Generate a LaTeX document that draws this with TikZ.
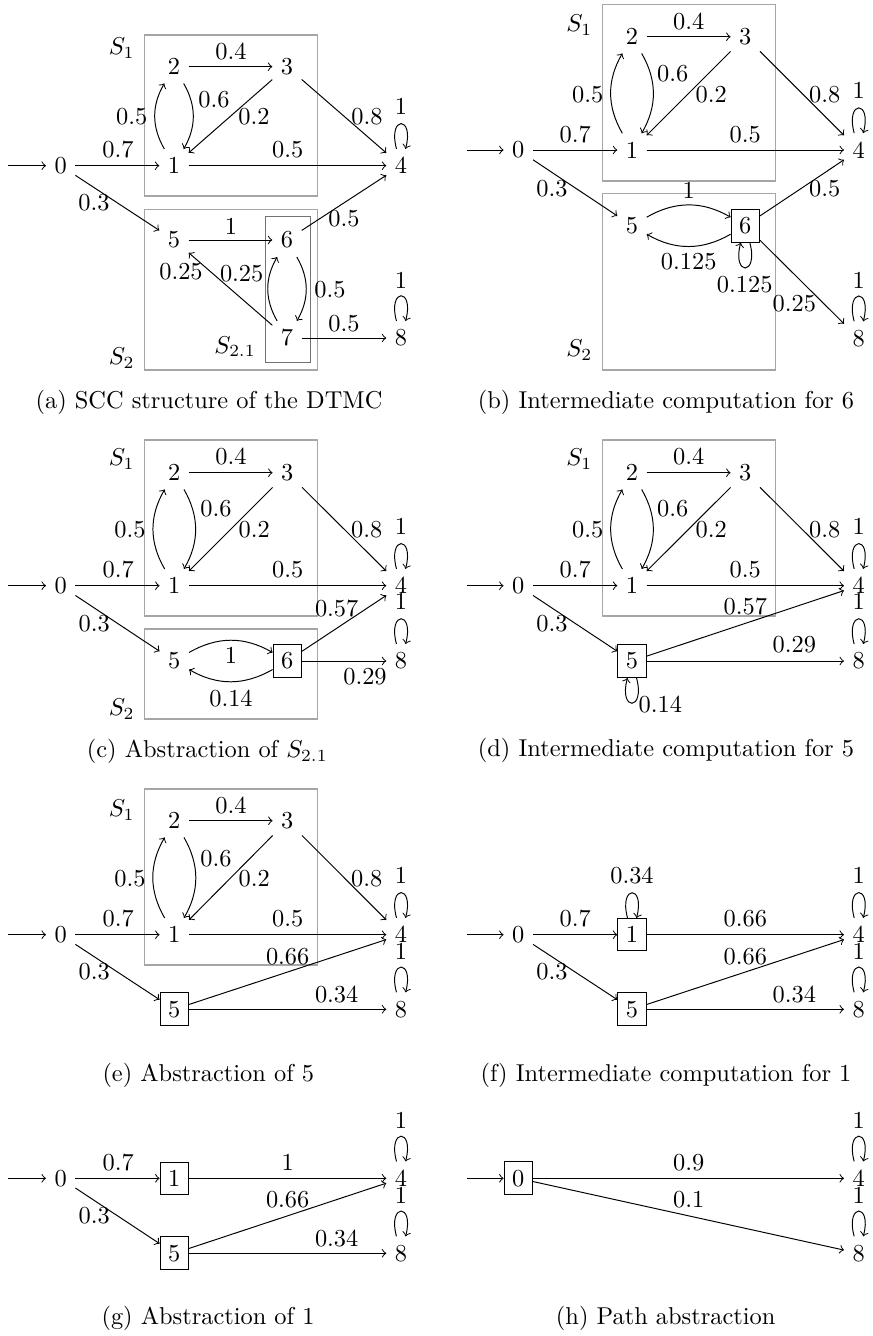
\documentclass[tikz,border=0pt]{standalone}
\usetikzlibrary{arrows}
\begin{document}
\begin{tikzpicture}[x=0.41pt,y=0.41pt,
  st/.style={inner sep=3.333pt},
  bx/.style={draw,inner sep=3.333pt},
  scc/.style={draw=black!35,line width=0.6pt},
  scci/.style={draw=black!55,line width=0.4pt},
  lbl/.style={inner sep=0pt},
  tr/.style={->},
  captxt/.style={inner sep=0pt}]
\useasboundingbox (0,0) rectangle (872,-1336);

%%%%%%%%%%%%%%%% (a)
\draw[scc] (144.3,-35) rectangle (317.7,-196);
\draw[scc] (144.3,-209.3) rectangle (317.7,-370);
\draw[scci] (265.3,-216.7) rectangle (310.3,-362.3);
\node[lbl] (aS1) at (121.7,-48.3) {$S_1$};
\node[lbl] (aS2) at (121.7,-358) {$S_2$};
\node[lbl] (aS21) at (235,-346.7) {$S_{2.1}$};
\node[st] (a0) at (60.7,-165.7) {0};
\node[st] (a1) at (174,-165.7) {1};
\node[st] (a2) at (174,-66.7) {2};
\node[st] (a3) at (287,-66.7) {3};
\node[st] (a4) at (401,-165.7) {4};
\node[st] (a5) at (174,-240) {5};
\node[st] (a6) at (287,-240) {6};
\node[st] (a7) at (287,-338) {7};
\node[st] (a8) at (401,-338) {8};
\coordinate (ai) at (8.3,-165.7);
\draw[tr] (ai) -- (a0);
\draw[tr] (a0) -- (a1);
\draw[tr] (a0) -- (a5);
\draw[tr] (a1) to[bend left] (a2);
\draw[tr] (a2) to[bend left] (a1);
\draw[tr] (a2) -- (a3);
\draw[tr] (a3) -- (a1);
\draw[tr] (a3) -- (a4);
\draw[tr] (a1) -- (a4);
\draw[tr] (a4) to[loop above] ();
\draw[tr] (a5) -- (a6);
\draw[tr] (a6) -- (a4);
\draw[tr] (a6) to[bend left] (a7);
\draw[tr] (a7) to[bend left] (a6);
\draw[tr] (a7) -- (a5);
\draw[tr] (a7) -- (a8);
\draw[tr] (a8) to[loop above] ();
\node[lbl] (la01) at (118,-150) {0.7};
\node[lbl] (la05) at (94,-203) {0.3};
\node[lbl] (la12) at (131.7,-116.7) {0.5};
\node[lbl] (la21) at (214,-99.3) {0.6};
\node[lbl] (la31) at (254,-116.7) {0.2};
\node[lbl] (la23) at (231,-51.7) {0.4};
\node[lbl] (la34) at (367,-117) {0.8};
\node[lbl] (la14) at (287.7,-150) {0.5};
\node[lbl] (la44) at (401,-106) {1};
\node[lbl] (la56) at (231,-226.7) {1};
\node[lbl] (la64) at (344,-218.3) {0.5};
\node[lbl] (la67) at (330,-289.3) {0.5};
\node[lbl] (la76) at (241.7,-273.3) {0.25};
\node[lbl] (la75) at (181,-271.7) {0.25};
\node[lbl] (la78) at (344,-323.3) {0.5};
\node[lbl] (la88) at (401,-280) {1};
\node[captxt] (capa) at (209,-402) {(a) SCC structure of the DTMC};

%%%%%%%%%%%%%%%% (b)
\draw[scc] (602.7,-4.7) rectangle (775.3,-181);
\draw[scc] (602.7,-193.3) rectangle (775.3,-370);
\node[lbl] (bS1) at (579.3,-25) {$S_1$};
\node[lbl] (bS2) at (579.3,-350) {$S_2$};
\node[st] (b0) at (518.3,-150) {0};
\node[st] (b1) at (632,-150) {1};
\node[st] (b2) at (632,-36.7) {2};
\node[st] (b3) at (745.3,-36.7) {3};
\node[st] (b4) at (858.7,-150) {4};
\node[st] (b5) at (632,-225.7) {5};
\node[bx] (b6) at (745.3,-225.7) {6};
\node[st] (b8) at (858.7,-338.3) {8};
\coordinate (bi) at (466.7,-150);
\draw[tr] (bi) -- (b0);
\draw[tr] (b0) -- (b1);
\draw[tr] (b0) -- (b5);
\draw[tr] (b1) to[bend left] (b2);
\draw[tr] (b2) to[bend left] (b1);
\draw[tr] (b2) -- (b3);
\draw[tr] (b3) -- (b1);
\draw[tr] (b3) -- (b4);
\draw[tr] (b1) -- (b4);
\draw[tr] (b4) to[loop above] ();
\draw[tr] (b5) to[bend left] (b6);
\draw[tr] (b6) to[bend left] (b5);
\draw[tr] (b6) to[loop below] ();
\draw[tr] (b6) -- (b4);
\draw[tr] (b6) -- (b8);
\draw[tr] (b8) to[loop above] ();
\node[lbl] (lb23) at (688.7,-21.7) {0.4};
\node[lbl] (lb21) at (672.7,-73.3) {0.6};
\node[lbl] (lb12) at (587.7,-94.3) {0.5};
\node[lbl] (lb31) at (711.3,-94.3) {0.2};
\node[lbl] (lb34) at (824.7,-94.3) {0.8};
\node[lbl] (lb44) at (858.7,-90) {1};
\node[lbl] (lb01) at (575.3,-135) {0.7};
\node[lbl] (lb14) at (745.3,-135) {0.5};
\node[lbl] (lb05) at (552,-188.3) {0.3};
\node[lbl] (lb56) at (688.7,-190) {1};
\node[lbl] (lb64) at (824.7,-188.3) {0.5};
\node[lbl] (lb65) at (688.7,-261.7) {0.125};
\node[lbl] (lb66) at (744.7,-285) {0.125};
\node[lbl] (lb68) at (794.3,-304) {0.25};
\node[lbl] (lb88) at (858.7,-280) {1};
\node[captxt] (capb) at (666,-402) {(b) Intermediate computation for 6};

%%%%%%%%%%%%%%%% (c)
\draw[scc] (144.3,-440) rectangle (317.7,-616);
\draw[scc] (144.3,-629) rectangle (317.7,-719);
\node[lbl] (cS1) at (121.7,-459.3) {$S_1$};
\node[lbl] (cS2) at (121.7,-709) {$S_2$};
\node[st] (c0) at (60.7,-585.7) {0};
\node[st] (c1) at (174.3,-585.7) {1};
\node[st] (c2) at (174.3,-472.7) {2};
\node[st] (c3) at (287.3,-472.7) {3};
\node[st] (c4) at (401,-585.7) {4};
\node[st] (c5) at (174.3,-661) {5};
\node[bx] (c6) at (287.3,-661) {6};
\node[st] (c8) at (401,-661) {8};
\coordinate (ci) at (8.3,-585.7);
\draw[tr] (ci) -- (c0);
\draw[tr] (c0) -- (c1);
\draw[tr] (c0) -- (c5);
\draw[tr] (c1) to[bend left] (c2);
\draw[tr] (c2) to[bend left] (c1);
\draw[tr] (c2) -- (c3);
\draw[tr] (c3) -- (c1);
\draw[tr] (c3) -- (c4);
\draw[tr] (c1) -- (c4);
\draw[tr] (c4) to[loop above] ();
\draw[tr] (c5) to[bend left] (c6);
\draw[tr] (c6) to[bend left] (c5);
\draw[tr] (c6) -- (c4);
\draw[tr] (c6) -- (c8);
\draw[tr] (c8) to[loop above] ();
\node[lbl] (lc23) at (231,-456.7) {0.4};
\node[lbl] (lc21) at (216,-509) {0.6};
\node[lbl] (lc12) at (130,-529.3) {0.5};
\node[lbl] (lc31) at (254.3,-529.3) {0.2};
\node[lbl] (lc34) at (366.7,-529.3) {0.8};
\node[lbl] (lc44) at (401,-526) {1};
\node[lbl] (lc01) at (118.3,-569.3) {0.7};
\node[lbl] (lc14) at (287.7,-569.3) {0.5};
\node[lbl] (lc64) at (336.7,-608.3) {0.57};
\node[lbl] (lc88) at (401,-601.7) {1};
\node[lbl] (lc05) at (94.3,-623.3) {0.3};
\node[lbl] (lc56) at (231,-655) {1};
\node[lbl] (lc65) at (231,-698.3) {0.14};
\node[lbl] (lc68) at (365,-676.7) {0.29};
\node[captxt] (capc) at (207.3,-751.7) {(c) Abstraction of $S_{2.1}$};

%%%%%%%%%%%%%%%% (d)
\draw[scc] (602.7,-440) rectangle (775.3,-616);
\node[lbl] (dS1) at (579.3,-459.3) {$S_1$};
\node[st] (d0) at (518.3,-585.7) {0};
\node[st] (d1) at (632,-585.7) {1};
\node[st] (d2) at (632,-472.7) {2};
\node[st] (d3) at (745.3,-472.7) {3};
\node[st] (d4) at (858.7,-585.7) {4};
\node[bx] (d5) at (632,-661) {5};
\node[st] (d8) at (858.7,-661) {8};
\coordinate (di) at (466.7,-585.7);
\draw[tr] (di) -- (d0);
\draw[tr] (d0) -- (d1);
\draw[tr] (d0) -- (d5);
\draw[tr] (d1) to[bend left] (d2);
\draw[tr] (d2) to[bend left] (d1);
\draw[tr] (d2) -- (d3);
\draw[tr] (d3) -- (d1);
\draw[tr] (d3) -- (d4);
\draw[tr] (d1) -- (d4);
\draw[tr] (d4) to[loop above] ();
\draw[tr] (d5) -- (d4);
\draw[tr] (d5) -- (d8);
\draw[tr] (d5) to[loop below] ();
\draw[tr] (d8) to[loop above] ();
\node[lbl] (ld23) at (688.7,-456.7) {0.4};
\node[lbl] (ld21) at (672.7,-509) {0.6};
\node[lbl] (ld12) at (587.7,-529.3) {0.5};
\node[lbl] (ld31) at (711.3,-529.3) {0.2};
\node[lbl] (ld34) at (824.7,-529.3) {0.8};
\node[lbl] (ld44) at (858.7,-526) {1};
\node[lbl] (ld01) at (575.3,-569.3) {0.7};
\node[lbl] (ld14) at (745.3,-569.3) {0.5};
\node[lbl] (ld54) at (745.3,-606.7) {0.57};
\node[lbl] (ld88) at (858.7,-601.7) {1};
\node[lbl] (ld05) at (552,-623.3) {0.3};
\node[lbl] (ld58) at (794.3,-645) {0.29};
\node[lbl] (ld55) at (660.3,-705) {0.14};
\node[captxt] (capd) at (666,-750) {(d) Intermediate computation for 5};

%%%%%%%%%%%%%%%% (e)
\draw[scc] (144.3,-789) rectangle (317.7,-965);
\node[lbl] (eS1) at (121.7,-810) {$S_1$};
\node[st] (e0) at (60.7,-934.7) {0};
\node[st] (e1) at (174.3,-934.7) {1};
\node[st] (e2) at (174.3,-820.7) {2};
\node[st] (e3) at (287.3,-820.7) {3};
\node[st] (e4) at (401,-934.7) {4};
\node[bx] (e5) at (174.3,-1009.3) {5};
\node[st] (e8) at (401,-1009.3) {8};
\coordinate (ei) at (8.3,-934.7);
\draw[tr] (ei) -- (e0);
\draw[tr] (e0) -- (e1);
\draw[tr] (e0) -- (e5);
\draw[tr] (e1) to[bend left] (e2);
\draw[tr] (e2) to[bend left] (e1);
\draw[tr] (e2) -- (e3);
\draw[tr] (e3) -- (e1);
\draw[tr] (e3) -- (e4);
\draw[tr] (e1) -- (e4);
\draw[tr] (e4) to[loop above] ();
\draw[tr] (e5) -- (e4);
\draw[tr] (e5) -- (e8);
\draw[tr] (e8) to[loop above] ();
\node[lbl] (le23) at (231,-805.7) {0.4};
\node[lbl] (le21) at (216,-858.3) {0.6};
\node[lbl] (le12) at (130,-878.3) {0.5};
\node[lbl] (le31) at (254.3,-878.3) {0.2};
\node[lbl] (le34) at (366.7,-878.3) {0.8};
\node[lbl] (le44) at (401,-875) {1};
\node[lbl] (le01) at (118.3,-918.3) {0.7};
\node[lbl] (le14) at (287.7,-918.3) {0.5};
\node[lbl] (le54) at (287.7,-956.7) {0.66};
\node[lbl] (le88) at (401,-951.7) {1};
\node[lbl] (le05) at (94.3,-971.7) {0.3};
\node[lbl] (le58) at (336.7,-994.3) {0.34};
\node[captxt] (cape) at (208.3,-1075) {(e) Abstraction of 5};

%%%%%%%%%%%%%%%% (f)
\node[st] (f0) at (518.3,-934.7) {0};
\node[bx] (f1) at (632,-934.7) {1};
\node[st] (f4) at (858.7,-934.7) {4};
\node[bx] (f5) at (632,-1009.3) {5};
\node[st] (f8) at (858.7,-1009.3) {8};
\coordinate (fi) at (466.7,-934.7);
\draw[tr] (fi) -- (f0);
\draw[tr] (f0) -- (f1);
\draw[tr] (f0) -- (f5);
\draw[tr] (f1) to[loop above] ();
\draw[tr] (f1) -- (f4);
\draw[tr] (f4) to[loop above] ();
\draw[tr] (f5) -- (f4);
\draw[tr] (f5) -- (f8);
\draw[tr] (f8) to[loop above] ();
\node[lbl] (lf11) at (632,-875) {0.34};
\node[lbl] (lf44) at (858.7,-875) {1};
\node[lbl] (lf01) at (575.3,-918.3) {0.7};
\node[lbl] (lf14) at (745.3,-918.3) {0.66};
\node[lbl] (lf54) at (745.3,-956.7) {0.66};
\node[lbl] (lf88) at (858.7,-951.7) {1};
\node[lbl] (lf05) at (552,-971.7) {0.3};
\node[lbl] (lf58) at (794.3,-994.3) {0.34};
\node[captxt] (capf) at (666,-1075) {(f) Intermediate computation for 1};

%%%%%%%%%%%%%%%% (g)
\node[st] (g0) at (60.7,-1178.3) {0};
\node[bx] (g1) at (174.3,-1178.3) {1};
\node[st] (g4) at (401,-1178.3) {4};
\node[bx] (g5) at (174.3,-1253.3) {5};
\node[st] (g8) at (401,-1253.3) {8};
\coordinate (gi) at (8.3,-1178.3);
\draw[tr] (gi) -- (g0);
\draw[tr] (g0) -- (g1);
\draw[tr] (g0) -- (g5);
\draw[tr] (g1) -- (g4);
\draw[tr] (g4) to[loop above] ();
\draw[tr] (g5) -- (g4);
\draw[tr] (g5) -- (g8);
\draw[tr] (g8) to[loop above] ();
\node[lbl] (lg44) at (401,-1120) {1};
\node[lbl] (lg01) at (118.3,-1162.3) {0.7};
\node[lbl] (lg14) at (287.7,-1162.3) {1};
\node[lbl] (lg54) at (287.7,-1200) {0.66};
\node[lbl] (lg88) at (401,-1195) {1};
\node[lbl] (lg05) at (94.3,-1215.7) {0.3};
\node[lbl] (lg58) at (336.7,-1238.3) {0.34};
\node[captxt] (capg) at (208,-1318.3) {(g) Abstraction of 1};

%%%%%%%%%%%%%%%% (h)
\node[bx] (h0) at (518.3,-1178.3) {0};
\node[st] (h4) at (858.7,-1178.3) {4};
\node[st] (h8) at (858.7,-1253.3) {8};
\coordinate (hi) at (466.7,-1178.3);
\draw[tr] (hi) -- (h0);
\draw[tr] (h0) -- (h4);
\draw[tr] (h0) -- (h8);
\draw[tr] (h4) to[loop above] ();
\draw[tr] (h8) to[loop above] ();
\node[lbl] (lh04) at (688.7,-1162.3) {0.9};
\node[lbl] (lh08) at (688.7,-1200) {0.1};
\node[lbl] (lh44) at (858.7,-1120) {1};
\node[lbl] (lh88) at (858.7,-1195) {1};
\node[captxt] (caph) at (665.7,-1318.3) {(h) Path abstraction};
\end{tikzpicture}
\end{document}
